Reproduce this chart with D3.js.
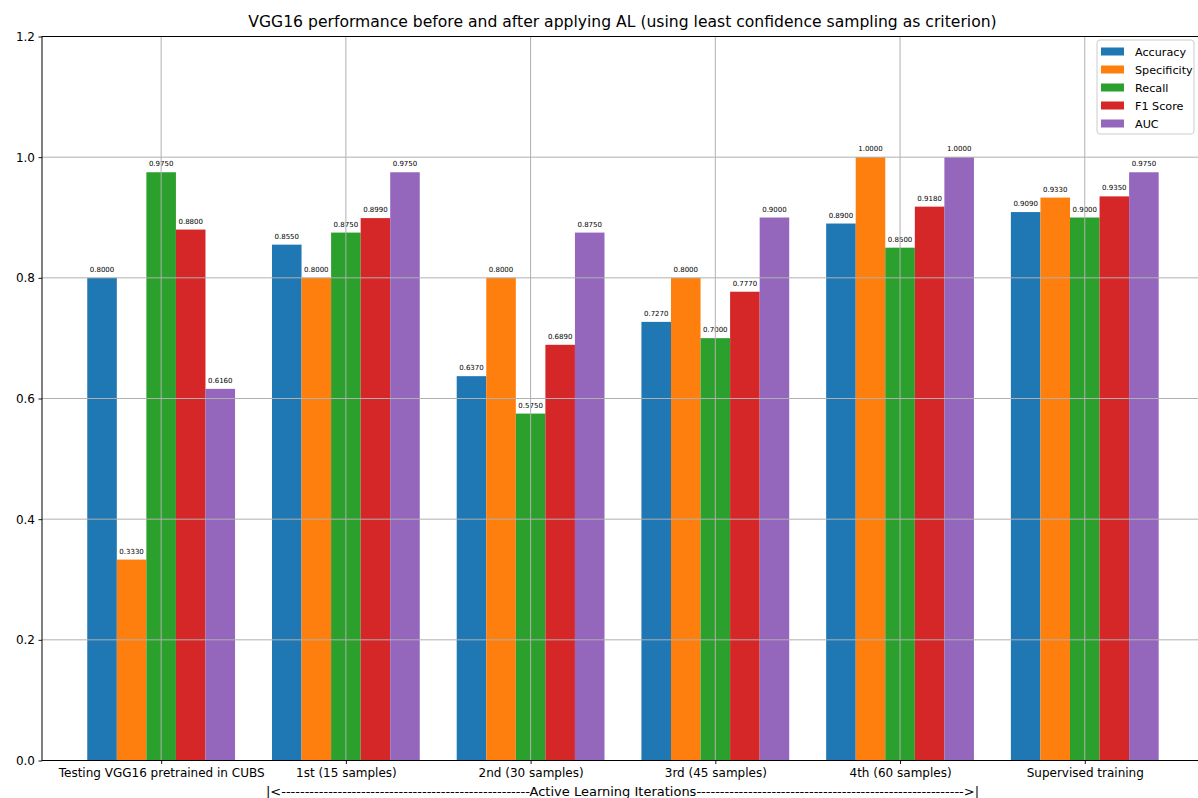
<!DOCTYPE html>
<html>
<head>
<meta charset="utf-8">
<script src="https://cdn.jsdelivr.net/npm/d3@7"></script>
<style>
  html, body { margin: 0; padding: 0; background: #fff; }
  svg { display: block; font-family: "DejaVu Sans", sans-serif; }
</style>
</head>
<body>
<svg id="chart" width="1198" height="798"></svg>
<script>
// Groups along the x axis
const categories = [
  "Testing VGG16 pretrained in CUBS",
  "1st (15 samples)",
  "2nd (30 samples)",
  "3rd (45 samples)",
  "4th (60 samples)",
  "Supervised training"
];

// Metric series, one value per group
const seriesNames = ["Accuracy", "Specificity", "Recall", "F1 Score", "AUC"];
const accuracy    = [0.800, 0.855, 0.637, 0.727, 0.890, 0.909];
const specificity = [0.333, 0.800, 0.800, 0.800, 1.000, 0.933];
const recall      = [0.975, 0.875, 0.575, 0.700, 0.850, 0.900];
const f1Score     = [0.880, 0.899, 0.689, 0.777, 0.918, 0.935];
const auc         = [0.616, 0.975, 0.875, 0.900, 1.000, 0.975];

const yTicks = [0.0, 0.2, 0.4, 0.6, 0.8, 1.0, 1.2];

const titleText = "VGG16 performance before and after applying AL (using least confidence sampling as criterion)";
const xLabelText = "|<" + "-".repeat(53) + "Active Learning Iterations" + "-".repeat(57) + ">|";

const series = [accuracy, specificity, recall, f1Score, auc];
const colors = ["#1f77b4", "#ff7f0e", "#2ca02c", "#d62728", "#9467bd"];

const barWidth = 0.16;

const svg = d3.select("#chart");
svg.append("rect").attr("width", 1198).attr("height", 798).attr("fill", "#fff");

// Plot area (right edge extends past the canvas)
const plotLeft = 42, plotRight = 1203, plotTop = 36.5, plotBottom = 760.5;

const x = d3.scaleLinear().domain([-0.645, 5.64]).range([plotLeft, plotRight]);
const y = d3.scaleLinear().domain([0, 1.2]).range([plotBottom, plotTop]);

// Bars
const barsG = svg.append("g");
series.forEach((vals, j) => {
  barsG.selectAll(null)
    .data(vals)
    .enter()
    .append("rect")
    .attr("x", (d, i) => x(i - 0.4 + j * barWidth))
    .attr("y", d => y(d))
    .attr("width", x(barWidth) - x(0))
    .attr("height", d => y(0) - y(d))
    .attr("fill", colors[j]);
});

// Value labels above each bar
const labelsG = svg.append("g")
  .attr("font-size", 7)
  .attr("fill", "#000")
  .attr("text-anchor", "middle");
series.forEach((vals, j) => {
  labelsG.selectAll(null)
    .data(vals)
    .enter()
    .append("text")
    .attr("x", (d, i) => x(i - 0.4 + (j + 0.5) * barWidth))
    .attr("y", d => y(d) - 6)
    .text(d => d.toFixed(4));
});

// Grid lines drawn over the bars
const gridG = svg.append("g")
  .attr("stroke", "#b0b0b0")
  .attr("stroke-width", 1);
gridG.selectAll(null)
  .data(d3.range(categories.length))
  .enter()
  .append("line")
  .attr("x1", d => x(d)).attr("x2", d => x(d))
  .attr("y1", plotTop).attr("y2", plotBottom);
gridG.selectAll(null)
  .data(yTicks)
  .enter()
  .append("line")
  .attr("x1", plotLeft).attr("x2", plotRight)
  .attr("y1", d => y(d)).attr("y2", d => y(d));

// Axes
const yAxis = d3.axisLeft(y)
  .tickValues(yTicks)
  .tickFormat(d3.format(".1f"))
  .tickSize(3.5)
  .tickPadding(3.5)
  .tickSizeOuter(0);
const xAxis = d3.axisBottom(x)
  .tickValues(d3.range(categories.length))
  .tickFormat(i => categories[i])
  .tickSize(3.5)
  .tickPadding(4)
  .tickSizeOuter(0);

const gy = svg.append("g")
  .attr("transform", `translate(${plotLeft},0)`)
  .call(yAxis);
const gx = svg.append("g")
  .attr("transform", `translate(0,${plotBottom})`)
  .call(xAxis);

[gx, gy].forEach(g => {
  g.attr("font-family", "DejaVu Sans, sans-serif").attr("font-size", 12);
  g.selectAll("text").attr("fill", "#000");
  g.selectAll("line").attr("stroke", "#000").attr("stroke-width", 0.9);
  g.select(".domain").remove();
});

// Frame around the plot area
svg.append("rect")
  .attr("x", plotLeft).attr("y", plotTop)
  .attr("width", plotRight - plotLeft).attr("height", plotBottom - plotTop)
  .attr("fill", "none")
  .attr("stroke", "#000")
  .attr("stroke-width", 1);

// Title
svg.append("text")
  .attr("x", (plotLeft + plotRight) / 2)
  .attr("y", 27)
  .attr("text-anchor", "middle")
  .attr("font-size", 15.6)
  .attr("fill", "#000")
  .text(titleText);

// X axis label
svg.append("text")
  .attr("x", (plotLeft + plotRight) / 2)
  .attr("y", 796)
  .attr("text-anchor", "middle")
  .attr("font-size", 13)
  .attr("fill", "#000")
  .text(xLabelText);

// Legend
const legend = svg.append("g").attr("transform", "translate(1097,40)");
legend.append("rect")
  .attr("width", 97).attr("height", 94)
  .attr("rx", 3)
  .attr("fill", "#fff").attr("fill-opacity", 0.8)
  .attr("stroke", "#cccccc").attr("stroke-width", 1);
const items = legend.selectAll(".item")
  .data(seriesNames)
  .enter()
  .append("g")
  .attr("transform", (d, i) => `translate(0,${11.5 + i * 18})`);
items.append("rect")
  .attr("x", 4).attr("y", -4)
  .attr("width", 23).attr("height", 8)
  .attr("fill", (d, i) => colors[i]);
items.append("text")
  .attr("x", 38).attr("dy", "0.36em")
  .attr("font-size", 11.2)
  .attr("fill", "#000")
  .text(d => d);
</script>
</body>
</html>
